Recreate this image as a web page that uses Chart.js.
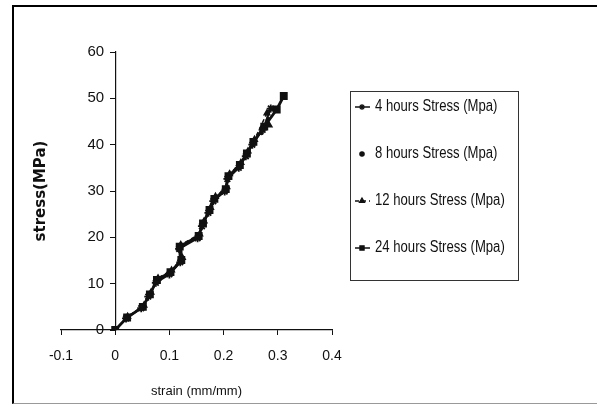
<!DOCTYPE html>
<html>
<head>
<meta charset="utf-8">
<script src="https://cdn.jsdelivr.net/npm/chart.js@4/dist/chart.umd.min.js"></script>
<style>
  html, body { margin: 0; padding: 0; background: #fff; }
  #wrap { position: relative; width: 597px; height: 405px; overflow: hidden; }
  #frame { position: absolute; left: 12px; top: 5px; width: 620px; height: 396px;
           border-left: 2px solid #000; border-top: 2px solid #000; border-bottom: 1px solid #999;
           pointer-events: none; }
  canvas { position: absolute; left: 0; top: 0; }
</style>
</head>
<body>
<div id="wrap">
  <canvas id="c" width="597" height="405"></canvas>
  <div id="frame"></div>
</div>
<script>
// ---- data ----
const seriesLabels = ['4 hours Stress (Mpa)', '8 hours Stress (Mpa)', '12 hours Stress (Mpa)', '24 hours Stress (Mpa)'];

const strain4  = [0, 0.020, 0.048, 0.061, 0.075, 0.100, 0.120, 0.118, 0.152, 0.160, 0.172, 0.181, 0.202, 0.207, 0.228, 0.241, 0.253, 0.272, 0.287];
const stress4  = [0, 2.5, 4.7, 7.2, 10.2, 12.0, 14.6, 17.5, 19.8, 22.4, 25.3, 27.8, 29.9, 32.6, 35.0, 37.5, 40.0, 43.2, 47.8];

const strain8  = [0, 0.021, 0.050, 0.063, 0.076, 0.101, 0.121, 0.120, 0.153, 0.161, 0.173, 0.182, 0.203, 0.208, 0.229, 0.242, 0.254, 0.270, 0.282];
const stress8  = [0.3, 2.6, 4.9, 7.5, 10.5, 12.3, 14.9, 17.8, 20.1, 22.7, 25.6, 28.0, 30.1, 32.9, 35.3, 37.8, 40.3, 42.5, 45.5];

const strain12 = [0, 0.023, 0.053, 0.066, 0.079, 0.104, 0.124, 0.121, 0.156, 0.164, 0.176, 0.185, 0.206, 0.211, 0.232, 0.245, 0.257, 0.280, 0.284];
const stress12 = [0, 2.9, 5.3, 8.1, 11.2, 12.9, 15.6, 18.4, 20.7, 23.5, 26.4, 28.8, 30.9, 33.7, 36.1, 38.6, 41.1, 46.8, 44.2];

const strain24 = [0, 0.022, 0.051, 0.064, 0.077, 0.102, 0.122, 0.119, 0.154, 0.162, 0.174, 0.183, 0.204, 0.209, 0.230, 0.243, 0.255, 0.275, 0.298, 0.311];
const stress24 = [0, 2.7, 5.0, 7.7, 10.8, 12.5, 15.1, 18.0, 20.3, 23.0, 25.9, 28.3, 30.4, 33.2, 35.6, 38.1, 40.6, 43.9, 47.6, 50.5];

const xTicks = [-0.1, 0, 0.1, 0.2, 0.3, 0.4];
const yTicks = [0, 10, 20, 30, 40, 50, 60];

const xTitle = 'strain (mm/mm)';
const yTitle = 'stress(MPa)';

// ---- build ----
const pts = (xs, ys) => xs.map((x, i) => ({x: x, y: ys[i]}));
const FONT = '"Liberation Sans", Arial, sans-serif';
const INK = '#111';

const datasets = [
  { label: seriesLabels[0], data: pts(strain4, stress4), borderColor: INK, backgroundColor: INK,
    borderWidth: 2, pointStyle: 'star', pointRadius: 4, pointBorderWidth: 1.8, showLine: true },
  { label: seriesLabels[1], data: pts(strain8, stress8), borderColor: INK, backgroundColor: INK,
    borderWidth: 0, pointStyle: 'circle', pointRadius: 2.2, showLine: false },
  { label: seriesLabels[2], data: pts(strain12, stress12), borderColor: INK, backgroundColor: INK,
    borderWidth: 1.5, borderDash: [4, 3], pointStyle: 'triangle', pointRadius: 3.2, showLine: true },
  { label: seriesLabels[3], data: pts(strain24, stress24), borderColor: INK, backgroundColor: INK,
    borderWidth: 2.8, pointStyle: 'rect', pointRadius: 3.6, showLine: true }
];

const legendBox = {
  id: 'legendBox',
  afterDraw(chart) {
    const ctx = chart.ctx;
    const L = 350, T = 91, W = 168, H = 189;
    ctx.save();
    ctx.strokeStyle = '#333';
    ctx.lineWidth = 1;
    ctx.strokeRect(L + 0.5, T + 0.5, W, H);
    const ys = [107, 154, 201, 248];
    chart.data.datasets.forEach((ds, i) => {
      const y = ys[i];
      const mx = 362;
      if (ds.showLine) {
        ctx.beginPath();
        ctx.setLineDash(ds.borderDash || []);
        ctx.lineWidth = Math.min(ds.borderWidth, 1.5);
        ctx.strokeStyle = INK;
        ctx.moveTo(mx - 7, y);
        ctx.lineTo(mx + 8, y);
        ctx.stroke();
        ctx.setLineDash([]);
      }
      ctx.fillStyle = INK;
      ctx.strokeStyle = INK;
      ctx.lineWidth = 1.2;
      Chart.helpers.drawPoint(ctx, {pointStyle: ds.pointStyle, radius: Math.min(ds.pointRadius, 3), rotation: 0, borderWidth: 1.2}, mx, y);
      ctx.save();
      ctx.translate(375, y);
      ctx.scale(0.82, 1);
      ctx.font = '16px ' + FONT;
      ctx.textBaseline = 'middle';
      ctx.textAlign = 'left';
      ctx.fillStyle = INK;
      ctx.fillText(ds.label, 0, 0);
      ctx.restore();
    });
    ctx.restore();
  }
};

const gridOpts = { display: true, drawOnChartArea: false, drawTicks: true, tickLength: 5, color: INK, lineWidth: 1 };

new Chart(document.getElementById('c'), {
  type: 'scatter',
  data: { datasets: datasets },
  options: {
    responsive: false,
    animation: false,
    devicePixelRatio: 1,
    layout: { padding: { left: 27, right: 265, top: 52, bottom: 0 } },
    plugins: { legend: { display: false }, tooltip: { enabled: false } },
    scales: {
      x: {
        type: 'linear', position: 'bottom', min: -0.1, max: 0.4,
        afterBuildTicks: (s) => { s.ticks = xTicks.map(v => ({value: v})); },
        afterFit: (s) => { s.height = 75; },
        grid: gridOpts,
        border: { display: true, color: INK, width: 1.2 },
        ticks: { color: INK, padding: 13, font: { family: FONT, size: 14 } },
        title: { display: true, text: xTitle, color: INK, font: { family: FONT, size: 13 }, padding: { top: 0, bottom: 6 } }
      },
      // axis line + tick marks at strain = 0
      y: {
        type: 'linear', position: { x: 0 }, min: 0, max: 60,
        afterBuildTicks: (s) => { s.ticks = yTicks.map(v => ({value: v})); },
        grid: gridOpts,
        border: { display: true, color: INK, width: 1.2 },
        ticks: { display: false }
      },
      // tick labels, set just left of the axis line
      yl: {
        type: 'linear', position: { x: -0.0205 }, min: 0, max: 60,
        afterBuildTicks: (s) => { s.ticks = yTicks.map(v => ({value: v})); },
        grid: { display: false }, border: { display: false },
        ticks: { color: INK, font: { family: FONT, size: 15 } }
      },
      // holds the y title at the left edge
      yt: {
        type: 'linear', position: 'left', min: 0, max: 60,
        afterFit: (s) => { s.width = 34; },
        grid: { display: false }, border: { display: false },
        ticks: { display: false },
        title: { display: true, text: yTitle, color: INK,
                 font: { family: '"DejaVu Sans", sans-serif', size: 15, weight: 'bold' }, padding: { top: 5, bottom: 0 } }
      }
    }
  }
  ,plugins: [legendBox]
});
</script>
</body>
</html>
